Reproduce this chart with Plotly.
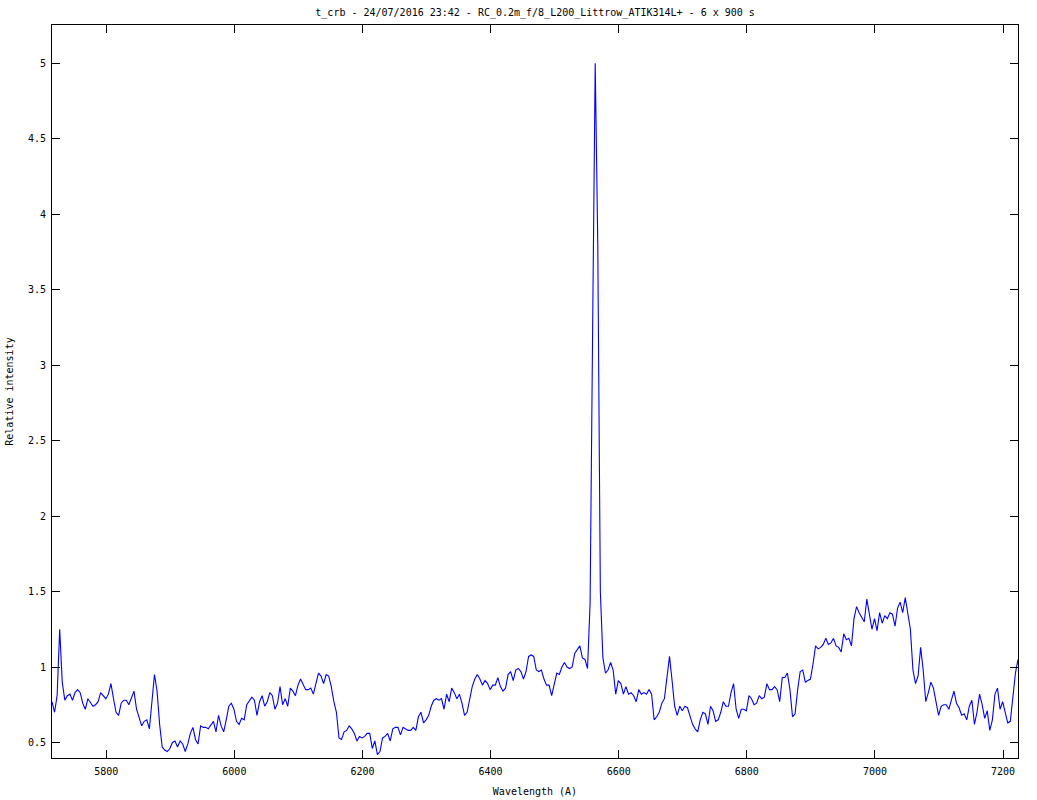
import plotly.graph_objects as go

# Spectrum sampling: start wavelength and step (Angstrom)
wl_start = 5715.3
wl_step = 4.0

intensity = [
    0.77, 0.70, 0.81, 1.25, 0.90, 0.78, 0.81, 0.82, 0.78, 0.83,
    0.85, 0.83, 0.76, 0.72, 0.79, 0.76, 0.74, 0.75, 0.77, 0.83,
    0.81, 0.79, 0.82, 0.89, 0.79, 0.70, 0.68, 0.76, 0.78, 0.78,
    0.75, 0.79, 0.84, 0.72, 0.66, 0.61, 0.64, 0.65, 0.59, 0.76,
    0.95, 0.84, 0.62, 0.47, 0.45, 0.44, 0.46, 0.50, 0.51, 0.47,
    0.51, 0.49, 0.44, 0.49, 0.56, 0.60, 0.52, 0.49, 0.61, 0.60,
    0.60, 0.59, 0.62, 0.64,
    0.57, 0.68, 0.61, 0.57, 0.65, 0.74, 0.76, 0.72, 0.64, 0.62,
    0.66, 0.65, 0.75, 0.78, 0.80, 0.78, 0.68, 0.77, 0.81, 0.74,
    0.77, 0.83, 0.81, 0.72, 0.76, 0.87, 0.75, 0.79, 0.74, 0.86,
    0.84, 0.81, 0.88, 0.92, 0.89, 0.85, 0.85, 0.86, 0.82, 0.89,
    0.96, 0.94, 0.89, 0.95, 0.94, 0.87, 0.77, 0.70, 0.53, 0.52,
    0.57, 0.58, 0.61, 0.59, 0.56, 0.51, 0.54, 0.53, 0.54, 0.56,
    0.56, 0.46, 0.51,
    0.42, 0.44, 0.53, 0.54, 0.56, 0.51, 0.59, 0.60, 0.60, 0.55,
    0.60, 0.59, 0.58, 0.58, 0.60, 0.58, 0.67, 0.70, 0.63, 0.65,
    0.68, 0.74, 0.78, 0.79, 0.78, 0.79, 0.72, 0.82, 0.77, 0.86,
    0.83, 0.79, 0.82, 0.76, 0.68, 0.70, 0.79, 0.87, 0.92, 0.95,
    0.92, 0.88, 0.91, 0.89, 0.85, 0.88, 0.88, 0.93, 0.87, 0.84,
    0.86, 0.95, 0.97, 0.91, 0.98, 0.99, 0.97, 0.92, 0.97, 1.07,
    1.08, 1.07,
    0.98, 0.97, 0.98, 0.92, 0.88, 0.88, 0.81, 0.89, 0.96, 0.95,
    1.00, 1.03, 1.00, 0.99, 1.00, 1.09, 1.12, 1.14, 1.06, 1.05,
    0.99, 1.42, 3.25, 5.00, 3.80, 1.50,
    1.06, 0.96, 0.98, 1.03, 0.98, 0.82, 0.91, 0.89, 0.82, 0.87,
    0.82, 0.83, 0.81, 0.77, 0.85, 0.82, 0.83, 0.82, 0.85, 0.82,
    0.65, 0.67, 0.70, 0.76, 0.79, 0.94, 1.07, 0.91, 0.74, 0.68,
    0.74, 0.71, 0.74, 0.73, 0.68, 0.62,
    0.59, 0.57, 0.65, 0.70, 0.69, 0.62, 0.74, 0.71, 0.64, 0.65,
    0.70, 0.77, 0.74, 0.74, 0.83, 0.89, 0.72, 0.66, 0.72, 0.72,
    0.71, 0.81, 0.79, 0.75, 0.76, 0.81, 0.79, 0.80, 0.89, 0.85,
    0.85, 0.87, 0.85, 0.77, 0.93, 0.93, 0.96, 0.85, 0.67, 0.69,
    0.85, 0.97, 0.98, 0.90, 0.91, 0.92, 1.02, 1.14, 1.12, 1.13,
    1.15, 1.19, 1.15, 1.16, 1.19, 1.14, 1.13, 1.10, 1.22, 1.18,
    1.19, 1.14, 1.32,
    1.40, 1.36, 1.33, 1.30, 1.45, 1.36, 1.25, 1.32, 1.24, 1.36,
    1.29, 1.34, 1.32, 1.36, 1.35, 1.27, 1.39, 1.43, 1.36, 1.46,
    1.36, 1.25, 0.98, 0.89, 0.94, 1.13, 0.98, 0.77, 0.83, 0.90,
    0.86, 0.78, 0.68, 0.74, 0.75, 0.75, 0.72, 0.78, 0.84, 0.76,
    0.73, 0.68, 0.69, 0.65, 0.74, 0.78, 0.62, 0.70, 0.82, 0.75,
    0.66, 0.71, 0.58, 0.65, 0.82, 0.86, 0.72, 0.77, 0.70, 0.63,
    0.64, 0.81, 0.96, 1.05,
]

wavelength = [wl_start + wl_step * i for i in range(len(intensity))]

x_ticks = [5800, 6000, 6200, 6400, 6600, 6800, 7000, 7200]
y_ticks = [0.5, 1, 1.5, 2, 2.5, 3, 3.5, 4, 4.5, 5]
y_tick_text = ["0.5", "1", "1.5", "2", "2.5", "3", "3.5", "4", "4.5", "5"]

title_text = "t_crb - 24/07/2016 23:42 - RC_0.2m_f/8_L200_Littrow_ATIK314L+ - 6 x 900 s"

font_family = "DejaVu Sans Mono"

fig = go.Figure()
fig.add_trace(go.Scatter(
    x=wavelength, y=intensity, mode="lines",
    line=dict(color="#0000ff", width=1.1),
    showlegend=False, hoverinfo="x+y",
))

axis_common = dict(
    showgrid=False, zeroline=False, automargin=False,
    showline=True, linecolor="black", linewidth=1,
    mirror="ticks", ticks="inside", ticklen=8, tickwidth=1, tickcolor="black",
    tickfont=dict(family=font_family, size=10, color="black"),
)

fig.update_layout(
    width=1037, height=800,
    paper_bgcolor="white", plot_bgcolor="white",
    margin=dict(l=52, r=19, t=25, b=42),
    title=dict(text=title_text, x=0.516, xanchor="center", y=0.984, yanchor="middle",
               font=dict(family=font_family, size=10, color="black")),
    xaxis=dict(range=[wl_start, wavelength[-1]], tickvals=x_ticks,
               ticklabelstandoff=4,
               title=dict(text="Wavelength (A)", standoff=11,
                          font=dict(family=font_family, size=10, color="black")),
               **axis_common),
    yaxis=dict(range=[0.397, 5.254], tickvals=y_ticks, ticktext=y_tick_text,
               ticklabelstandoff=3,
               title=dict(text="Relative intensity", standoff=12,
                          font=dict(family=font_family, size=10, color="black")),
               **axis_common),
)

fig.write_html("out.html", config={"displayModeBar": False},
               post_script="document.body.style.margin='0';")
